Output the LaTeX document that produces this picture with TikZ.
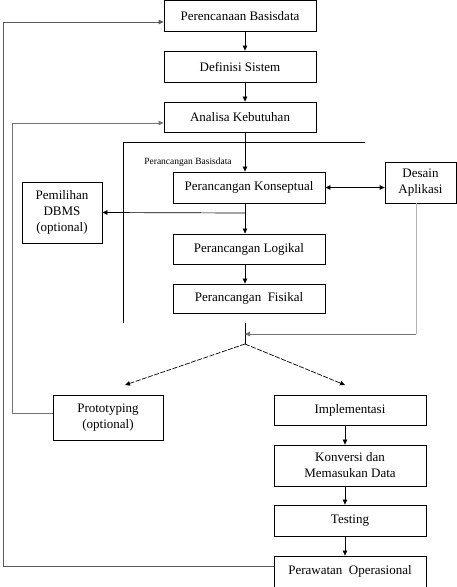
\documentclass[tikz,border=0pt]{standalone}
\usepackage{fontspec}
\setmainfont{Liberation Serif}
\usetikzlibrary{arrows.meta}
\begin{document}
\begin{tikzpicture}[x=1pt,y=-1pt,
  box/.style={draw, line width=0.8pt, inner sep=0pt, align=center, font=\fontsize{13}{16}\selectfont},
  arr/.style={line width=0.7pt, -{Triangle[length=5pt,width=4.5pt]}},
  fbline/.style={line width=0.8pt, draw=black!55},
  fblight/.style={line width=0.8pt, draw=black!30},
  dsh/.style={arr, dash pattern=on 5pt off 1.5pt}]
\useasboundingbox (0,0) rectangle (457,587);
% main column
\node[box, minimum width=152pt, minimum height=31pt] (per) at (240,16) {Perencanaan Basisdata};
\node[box, minimum width=152pt, minimum height=31pt] (def) at (240,66.5) {Definisi Sistem};
\node[box, minimum width=152pt, minimum height=30pt] (ana) at (240,117) {Analisa Kebutuhan};
\node[box, minimum width=152pt, minimum height=31pt] (kon) at (249,187.5) {Perancangan Konseptual};
\node[box, minimum width=71pt, minimum height=41pt] (des) at (420.5,182.5) {Desain\\Aplikasi};
\node[box, minimum width=80pt, minimum height=61pt] (dbms) at (62,212.5) {Pemilihan\\DBMS\\(optional)};
\node[box, minimum width=152pt, minimum height=30pt] (log) at (249,249) {Perancangan Logikal};
\node[box, minimum width=152pt, minimum height=29pt] (fis) at (249,298.5) {Perancangan~ Fisikal};
\node[box, minimum width=110pt, minimum height=45pt] (pro) at (108,417.5) {Prototyping\\(optional)};
\node[box, minimum width=152pt, minimum height=30pt] (imp) at (350,410) {Implementasi};
\node[box, minimum width=152pt, minimum height=41pt] (konv) at (350,465.5) {Konversi dan\\Memasukan Data};
\node[box, minimum width=152pt, minimum height=31pt] (tes) at (350,520.5) {Testing};
\node[box, minimum width=152pt, minimum height=31pt] (pera) at (350,571.5) {Perawatan~ Operasional};
% label
\node[font=\fontsize{9.5}{11}\selectfont, inner sep=0pt] (lbl) at (188,162) {Perancangan Basisdata};
% helper coordinates
\coordinate (c1) at (245,0);
\coordinate (c2) at (345,0);
\coordinate (br1) at (365,142);
\coordinate (br2) at (123,142);
\coordinate (br3) at (123,323);
\coordinate (jt) at (245,323);
\coordinate (jb) at (245,344);
\coordinate (jm) at (245,334);
\coordinate (dd) at (416,334);
\coordinate (split) at (245,213);
\coordinate (pe) at (125,385);
\coordinate (ie) at (345,385);
\coordinate (fa) at (3,566);
\coordinate (fz) at (3,22);
\coordinate (pa) at (12,413);
\coordinate (pb) at (12,123);
% bracket
\draw[line width=0.8pt] (br1) -- (br2) -- (br3);
% main arrows
\draw[arr] (per.south -| c1) -- (def.north -| c1);
\draw[arr] (def.south -| c1) -- (ana.north -| c1);
\draw[arr] (ana.south -| c1) -- (kon.north -| c1);
\draw[arr] (kon.south -| c1) -- (log.north -| c1);
\draw[arr] (log.south -| c1) -- (fis.north -| c1);
\draw[line width=0.8pt, {Triangle[length=5pt,width=4.5pt]}-{Triangle[length=5pt,width=4.5pt]}] (kon.east) -- (des.west |- kon.east);
\draw[arr] (split) -- (dbms.east);
% junction
\draw[line width=0.8pt] (jt) -- (jb);
\draw[fblight] (des.south -| dd) -- (dd);
\draw[fbline, -{Triangle[length=5pt,width=4.5pt]}] (dd) -- (jm);
\draw[dsh] (jb) -- (pe);
\draw[dsh] (jb) -- (ie);
% lower column
\draw[arr] (imp.south -| c2) -- (konv.north -| c2);
\draw[arr] (konv.south -| c2) -- (tes.north -| c2);
\draw[arr] (tes.south -| c2) -- (pera.north -| c2);
% feedback loops
\draw[line width=0.8pt, draw=black!65, -{Triangle[length=5pt,width=4.5pt]}] (pera.west |- fa) -- (fa) -- (fz) -- (per.west |- fz);
\draw[fbline, -{Triangle[length=5pt,width=4.5pt]}] (pro.west |- pa) -- (pa) -- (pb) -- (ana.west |- pb);
\end{tikzpicture}
\end{document}
